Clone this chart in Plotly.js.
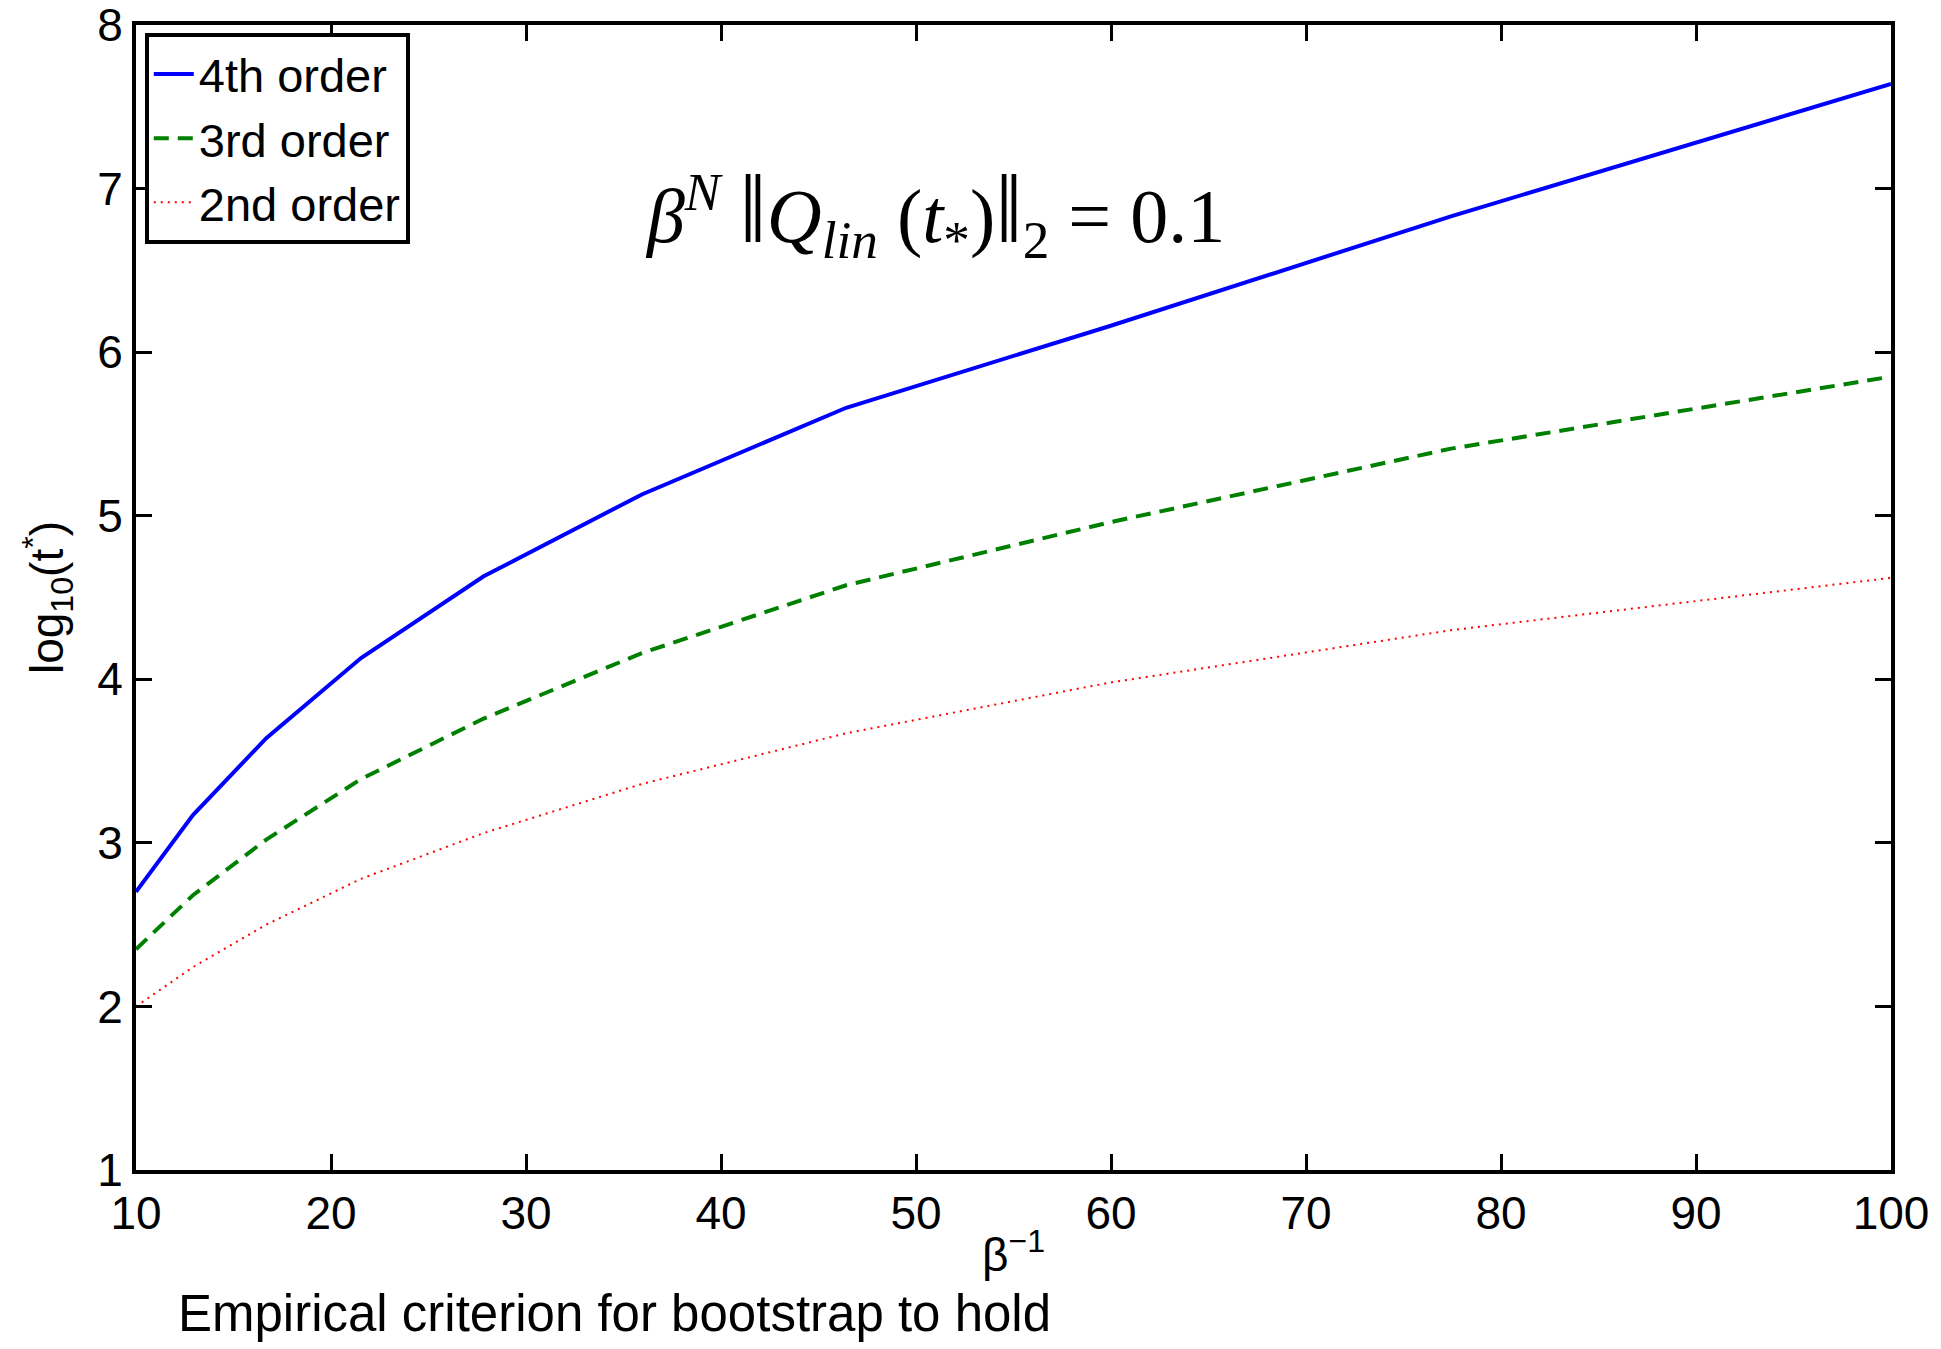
<!DOCTYPE html>
<html>
<head>
<meta charset="utf-8">
<script src="https://cdn.plot.ly/plotly-3.0.1.min.js"></script>
<style>
html,body{margin:0;padding:0;background:#fff;}
#chart{width:1941px;height:1349px;}
</style>
</head>
<body>
<div id="chart"></div>
<script>
// beta^{-1} values (log-spaced from 10 to 100)
const betaInv = [10, 12.92, 16.68, 21.54, 27.83, 35.94, 46.42, 59.95, 77.43, 100];
// log10(t*) for each order
const order4 = [2.70, 3.17, 3.64, 4.13, 4.63, 5.13, 5.66, 6.16, 6.83, 7.64];
const order3 = [2.35, 2.68, 3.02, 3.39, 3.76, 4.16, 4.575, 4.96, 5.41, 5.85];
const order2 = [2.00, 2.24, 2.50, 2.78, 3.06, 3.36, 3.67, 3.98, 4.30, 4.62];
const seriesNames = ["4th order", "3rd order", "2nd order"];
const xTicks = [10, 20, 30, 40, 50, 60, 70, 80, 90, 100];
const yTicks = [1, 2, 3, 4, 5, 6, 7, 8];

const traces = [
  {x: betaInv, y: order4, name: seriesNames[0], mode: "lines", type: "scatter",
   line: {color: "#0000ff", width: 4}},
  {x: betaInv, y: order3, name: seriesNames[1], mode: "lines", type: "scatter",
   line: {color: "#008000", width: 4, dash: "15px,9px"}},
  {x: betaInv, y: order2, name: seriesNames[2], mode: "lines", type: "scatter",
   line: {color: "#ff0000", width: 2, dash: "2px,5px"}}
];

const sans = "Liberation Sans, Arial, Helvetica, sans-serif";
const serif = "Liberation Serif, Times New Roman, serif";
const bar = '<span style="font-size:98px">\u2016</span>';
const layout = {
  width: 1941, height: 1349,
  paper_bgcolor: "#ffffff", plot_bgcolor: "#ffffff",
  margin: {l: 136, r: 50, t: 25, b: 179, pad: 0},
  showlegend: true,
  legend: {
    x: 0.005, y: 0.993, xanchor: "left", yanchor: "top",
    bgcolor: "#ffffff", bordercolor: "#000000", borderwidth: 4,
    font: {family: sans, size: 47, color: "#000000"},
    tracegroupgap: 0, itemwidth: 40
  },
  xaxis: {
    range: [10, 100], tickmode: "array", tickvals: xTicks,
    ticktext: xTicks.map(String),
    ticks: "inside", ticklen: 16, tickwidth: 3, tickcolor: "#000000",
    showline: true, linecolor: "#000000", linewidth: 4, mirror: "allticks",
    showgrid: false, zeroline: false, ticklabeloverflow: "allow",
    tickfont: {family: sans, size: 46, color: "#000000"},
    title: {text: "\u03b2<sup>\u22121</sup>", standoff: 2,
            font: {family: sans, size: 46, color: "#000000"}}
  },
  yaxis: {
    range: [1, 8], tickmode: "array", tickvals: yTicks,
    ticktext: yTicks.map(String),
    ticks: "inside", ticklen: 16, tickwidth: 3, tickcolor: "#000000",
    showline: true, linecolor: "#000000", linewidth: 4, mirror: "allticks",
    showgrid: false, zeroline: false, ticklabeloverflow: "allow",
    tickfont: {family: sans, size: 46, color: "#000000"},
    title: {text: "log<sub>10</sub>(t<sup>*</sup>)", standoff: 20,
            font: {family: sans, size: 46, color: "#000000"}}
  },
  annotations: [
    {xref: "paper", yref: "paper", x: 0.455, y: 0.836, xanchor: "center", yanchor: "middle",
     showarrow: false,
     text: "<i>\u03b2</i><sup><i>N</i></sup> " + bar + "<i>Q</i><sub><i>lin</i></sub> (<i>t</i><sub>*</sub>)" + bar + "<sub>2</sub> = 0.1",
     font: {family: serif, size: 76, color: "#000000"}},
    {xref: "paper", yref: "paper", x: 0.0228, y: -0.152, xanchor: "left", yanchor: "bottom",
     showarrow: false, text: "Empirical criterion for bootstrap to hold",
     font: {family: sans, size: 51, color: "#000000"}}
  ]
};

Plotly.newPlot("chart", traces, layout, {displayModeBar: false, staticPlot: true});
</script>
</body>
</html>
